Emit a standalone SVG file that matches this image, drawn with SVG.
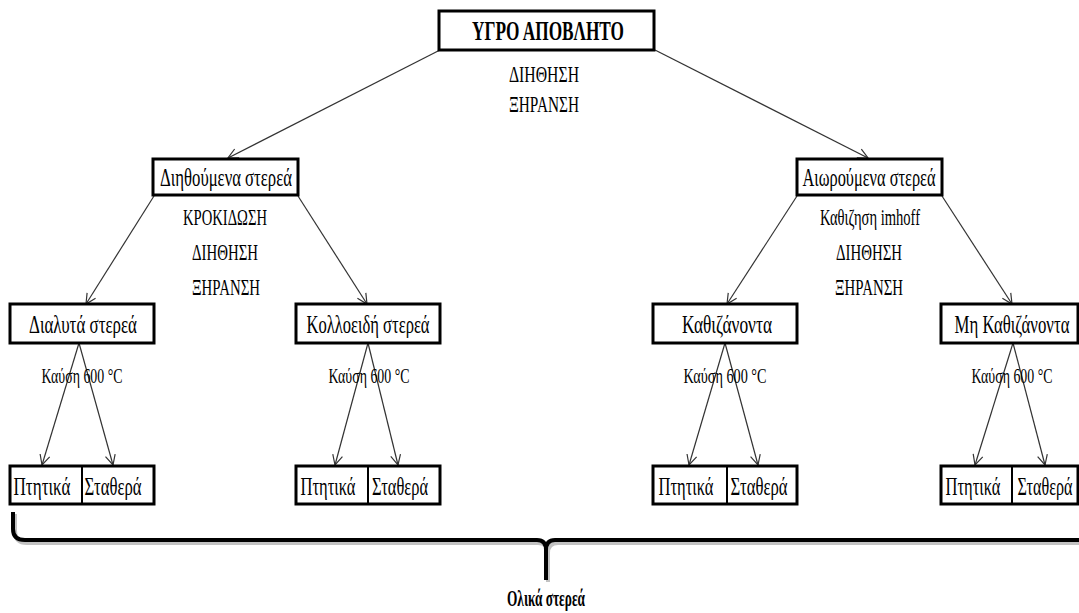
<svg xmlns="http://www.w3.org/2000/svg" width="1079" height="613" viewBox="0 0 1079 613">
<style>
.box{fill:#fff;stroke:#000;stroke-width:3}
.t{font-family:"Liberation Serif","Times New Roman",serif;fill:#000;text-anchor:middle}
.n{font-size:25px}
.p{font-size:23px}
.k{font-size:22px}
.b{font-size:26px}
.c{stroke:#333;stroke-width:1.2;fill:none;marker-end:url(#ah)}
</style>
<defs>
<marker id="ah" viewBox="0 0 12 12" refX="11" refY="6" markerWidth="12" markerHeight="12" markerUnits="userSpaceOnUse" orient="auto">
<path d="M1,1 L11,6 L1,11" fill="none" stroke="#333" stroke-width="1.2"/>
</marker>
</defs>
<rect width="1079" height="613" fill="#fff"/>
<g id="connectors">
<line class="c" x1="440" y1="50" x2="228" y2="158"/>
<line class="c" x1="655" y1="50" x2="868" y2="158"/>
<line class="c" x1="154" y1="196" x2="86" y2="304"/>
<line class="c" x1="298" y1="196" x2="367" y2="304"/>
<line class="c" x1="797" y1="196" x2="727" y2="304"/>
<line class="c" x1="942" y1="196" x2="1012" y2="304"/>
<line class="c" x1="79" y1="343" x2="42" y2="465"/>
<line class="c" x1="79" y1="343" x2="113" y2="465"/>
<line class="c" x1="368" y1="343" x2="335" y2="465"/>
<line class="c" x1="368" y1="343" x2="398" y2="465"/>
<line class="c" x1="725" y1="343" x2="689" y2="465"/>
<line class="c" x1="725" y1="343" x2="758" y2="465"/>
<line class="c" x1="1013" y1="343" x2="975" y2="465"/>
<line class="c" x1="1013" y1="343" x2="1045" y2="465"/>
</g>
<g id="root">
<rect class="box" x="439" y="11" width="215" height="39"/>
<text class="t" transform="translate(548,40) scale(0.68,1)" font-size="28" font-weight="bold" textLength="223.5" lengthAdjust="spacingAndGlyphs">ΥΓΡΟ ΑΠΟΒΛΗΤΟ</text>
<text class="t p" transform="translate(544,82) scale(0.68,1)" textLength="103" lengthAdjust="spacingAndGlyphs">ΔΙΗΘΗΣΗ</text>
<text class="t p" transform="translate(544,112) scale(0.68,1)" textLength="103" lengthAdjust="spacingAndGlyphs">ΞΗΡΑΝΣΗ</text>
</g>
<g id="dissolved-total">
<rect class="box" x="153" y="159" width="145" height="36"/>
<text class="t n" transform="translate(226,186) scale(0.68,1)" textLength="194" lengthAdjust="spacingAndGlyphs">Διηθούμενα στερεά</text>
<text class="t p" transform="translate(225,225) scale(0.68,1)" textLength="123.5" lengthAdjust="spacingAndGlyphs">ΚΡΟΚΙΔΩΣΗ</text>
<text class="t p" transform="translate(225,260) scale(0.68,1)" textLength="97" lengthAdjust="spacingAndGlyphs">ΔΙΗΘΗΣΗ</text>
<text class="t p" transform="translate(226,295) scale(0.68,1)" textLength="100" lengthAdjust="spacingAndGlyphs">ΞΗΡΑΝΣΗ</text>
</g>
<g id="suspended">
<rect class="box" x="797" y="159" width="145" height="36"/>
<text class="t n" transform="translate(869,186) scale(0.68,1)" textLength="195.6" lengthAdjust="spacingAndGlyphs">Αιωρούμενα στερεά</text>
<text class="t p" transform="translate(870,225) scale(0.68,1)" textLength="147" lengthAdjust="spacingAndGlyphs">Καθιζηση imhoff</text>
<text class="t p" transform="translate(869,260) scale(0.68,1)" textLength="97" lengthAdjust="spacingAndGlyphs">ΔΙΗΘΗΣΗ</text>
<text class="t p" transform="translate(869,295) scale(0.68,1)" textLength="100" lengthAdjust="spacingAndGlyphs">ΞΗΡΑΝΣΗ</text>
</g>
<g id="dissolved">
<rect class="box" x="10" y="304" width="144" height="39"/>
<text class="t n" transform="translate(83,333) scale(0.68,1)" textLength="158.8" lengthAdjust="spacingAndGlyphs">Διαλυτά στερεά</text>
<text class="t k" transform="translate(82,383) scale(0.68,1)" textLength="119" lengthAdjust="spacingAndGlyphs">Καύση 600 °C</text>
</g>
<g id="colloidal">
<rect class="box" x="296" y="304" width="144" height="39"/>
<text class="t n" transform="translate(368,333) scale(0.68,1)" textLength="181" lengthAdjust="spacingAndGlyphs">Κολλοειδή στερεά</text>
<text class="t k" transform="translate(369,383) scale(0.68,1)" textLength="119" lengthAdjust="spacingAndGlyphs">Καύση 600 °C</text>
</g>
<g id="settleable">
<rect class="box" x="653" y="304" width="144" height="39"/>
<text class="t n" transform="translate(727,333) scale(0.68,1)" textLength="132.4" lengthAdjust="spacingAndGlyphs">Καθιζάνοντα</text>
<text class="t k" transform="translate(725,383) scale(0.68,1)" textLength="122" lengthAdjust="spacingAndGlyphs">Καύση 600 °C</text>
</g>
<g id="non-settleable">
<rect class="box" x="941" y="304" width="137" height="39"/>
<text class="t n" transform="translate(1012,333) scale(0.68,1)" textLength="169" lengthAdjust="spacingAndGlyphs">Μη Καθιζάνοντα</text>
<text class="t k" transform="translate(1012,383) scale(0.68,1)" textLength="119" lengthAdjust="spacingAndGlyphs">Καύση 600 °C</text>
</g>
<g id="leaves-1">
<rect class="box" x="10" y="466" width="144" height="38"/>
<line x1="82" y1="466" x2="82" y2="504" stroke="#000" stroke-width="2"/>
<text class="t b" transform="translate(42,495) scale(0.68,1)" textLength="83.8" lengthAdjust="spacingAndGlyphs">Πτητικά</text>
<text class="t b" transform="translate(113,495) scale(0.68,1)" textLength="83.8" lengthAdjust="spacingAndGlyphs">Σταθερά</text>
</g>
<g id="leaves-2">
<rect class="box" x="296" y="466" width="144" height="38"/>
<line x1="368" y1="466" x2="368" y2="504" stroke="#000" stroke-width="2"/>
<text class="t b" transform="translate(328,495) scale(0.68,1)" textLength="80.9" lengthAdjust="spacingAndGlyphs">Πτητικά</text>
<text class="t b" transform="translate(400,495) scale(0.68,1)" textLength="82.4" lengthAdjust="spacingAndGlyphs">Σταθερά</text>
</g>
<g id="leaves-3">
<rect class="box" x="653" y="466" width="144" height="38"/>
<line x1="727" y1="466" x2="727" y2="504" stroke="#000" stroke-width="2"/>
<text class="t b" transform="translate(686,495) scale(0.68,1)" textLength="80.9" lengthAdjust="spacingAndGlyphs">Πτητικά</text>
<text class="t b" transform="translate(759,495) scale(0.68,1)" textLength="83.8" lengthAdjust="spacingAndGlyphs">Σταθερά</text>
</g>
<g id="leaves-4">
<rect class="box" x="941" y="466" width="137" height="38"/>
<line x1="1012" y1="466" x2="1012" y2="504" stroke="#000" stroke-width="2"/>
<text class="t b" transform="translate(973,495) scale(0.68,1)" textLength="80.9" lengthAdjust="spacingAndGlyphs">Πτητικά</text>
<text class="t b" transform="translate(1045,495) scale(0.68,1)" textLength="80.9" lengthAdjust="spacingAndGlyphs">Σταθερά</text>
</g>
<g id="total">
<path d="M15,514 L15,531 Q15,543 27,543 L538,543 Q548,543 548,553 L548,582 M548,553 Q548,543 558,543 L1085,543" fill="none" stroke="#999" stroke-width="4" opacity="0.6"/>
<path d="M13,512 L13,529 Q13,540 25,540 L537,540 Q546,540 546,550 L546,580 M546,550 Q546,540 555,540 L1085,540" fill="none" stroke="#000" stroke-width="4"/>
<text class="t" transform="translate(546,606) scale(0.68,1)" font-size="24" font-weight="bold" textLength="114.7" lengthAdjust="spacingAndGlyphs">Ολικά στερεά</text>
</g>
</svg>
